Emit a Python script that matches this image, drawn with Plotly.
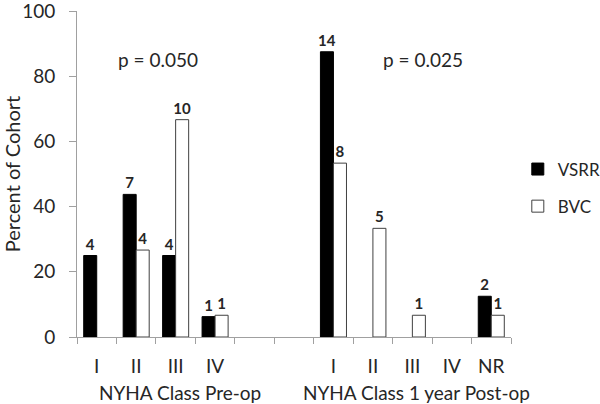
import plotly.graph_objects as go

categories = ["I", "II", "III", "IV", "", "", "I", "II", "III", "IV", "NR"]
vsrr_pct = [25.0, 43.75, 25.0, 6.25, None, None, 87.5, None, None, None, 12.5]
bvc_pct = [None, 26.67, 66.67, 6.67, None, None, 53.33, 33.33, 6.67, None, 6.67]
vsrr_labels = ["4", "7", "4", "1", "", "", "14", "", "", "", "2"]
bvc_labels = ["", "4", "10", "1", "", "", "8", "5", "1", "", "1"]
group_titles = ["NYHA Class Pre-op", "NYHA Class 1 year Post-op"]
group_centers = [2.1, 8.1]
p_texts = ["p = 0.050", "p = 0.025"]
p_x = [1.55, 8.28]
p_y = [85, 85]
y_ticks = [0, 20, 40, 60, 80, 100]

positions = list(range(len(categories)))
FONT = "Lato, Open Sans, sans-serif"
FS = 19
TXT = "#262626"

fig = go.Figure()
fig.add_trace(go.Bar(
    x=positions, y=vsrr_pct, name="VSRR", text=vsrr_labels,
    textposition="outside", cliponaxis=False, constraintext="none",
    textfont=dict(family=FONT, size=15, color=TXT, weight="bold"),
    marker=dict(color="black", line=dict(color="black", width=1)),
    legendgroup="a",
))
fig.add_trace(go.Bar(
    x=positions, y=bvc_pct, name="BVC", text=bvc_labels,
    textposition="outside", cliponaxis=False, constraintext="none",
    textfont=dict(family=FONT, size=15, color=TXT, weight="bold"),
    marker=dict(color="white", line=dict(color="#404040", width=1)),
    legendgroup="b",
))
# invisible trace to carry the between-category tick marks
fig.add_trace(go.Scatter(x=[-0.5, 10.5], y=[0, 0], xaxis="x2", mode="none",
                         showlegend=False, hoverinfo="skip"))

fig.update_layout(
    width=600, height=404,
    margin=dict(l=77, r=89, t=11, b=67),
    paper_bgcolor="white", plot_bgcolor="white",
    barmode="group", bargap=0.34, bargroupgap=0,
    font=dict(family=FONT, size=FS, color=TXT),
    showlegend=True,
    legend=dict(xref="container", yref="container", x=0.863, y=0.625,
                xanchor="left", yanchor="top",
                font=dict(family=FONT, size=17, color=TXT),
                tracegroupgap=12, bgcolor="rgba(0,0,0,0)"),
    xaxis=dict(
        range=[-0.5, 10.5], tickmode="array", tickvals=positions,
        ticktext=categories, ticks="", showgrid=False, zeroline=False,
        showline=True, linecolor="#a0a0a0", linewidth=1, automargin=False,
        tickfont=dict(family=FONT, size=FS, color=TXT),
        ticklabelstandoff=12,
    ),
    xaxis2=dict(
        range=[-0.5, 10.5], overlaying="x", anchor="y", side="bottom",
        tickmode="linear", tick0=-0.5, dtick=1, ticks="outside",
        ticklen=6, tickcolor="#a0a0a0", showticklabels=False, automargin=False,
        showgrid=False, zeroline=False, showline=False,
    ),
    yaxis=dict(
        range=[0, 100], tickvals=y_ticks, ticks="outside", ticklen=7,
        tickcolor="#a0a0a0", showgrid=False, zeroline=False,
        showline=True, linecolor="#a0a0a0", linewidth=1, automargin=False,
        ticklabeloverflow="allow", ticklabelstandoff=10,
        tickfont=dict(family=FONT, size=19, color=TXT),
        title=dict(text="Percent of Cohort", standoff=0,
                   font=dict(family=FONT, size=20, color=TXT)),
    ),
)

for t, cx in zip(group_titles, group_centers):
    fig.add_annotation(x=cx, y=0, xref="x", yref="y", text=t, showarrow=False,
                       yshift=-55, font=dict(family=FONT, size=FS, color=TXT))
for t, px_, py_ in zip(p_texts, p_x, p_y):
    fig.add_annotation(x=px_, y=py_, xref="x", yref="y", text=t, showarrow=False,
                       font=dict(family=FONT, size=FS, color=TXT))

fig.write_html("out.html", config={"displayModeBar": False},
               post_script="document.body.style.margin='0';")
